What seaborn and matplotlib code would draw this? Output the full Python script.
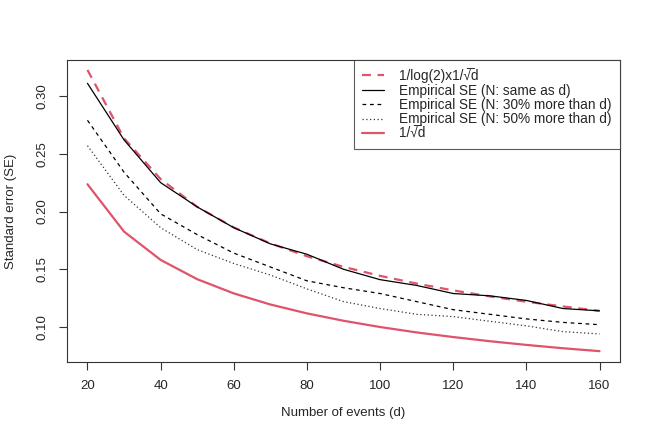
import matplotlib
matplotlib.use("Agg")
import matplotlib.pyplot as plt
import seaborn as sns
import pandas as pd

d = [20, 30, 40, 50, 60, 70, 80, 90, 100, 110, 120, 130, 140, 150, 160]
theory_log2 = [0.3226, 0.2634, 0.2281, 0.2040, 0.1862, 0.1724, 0.1613, 0.1521,
               0.1443, 0.1376, 0.1317, 0.1265, 0.1219, 0.1178, 0.1140]
emp_same = [0.311, 0.262, 0.225, 0.204, 0.186, 0.172, 0.163, 0.150,
            0.141, 0.136, 0.129, 0.127, 0.123, 0.116, 0.114]
emp_30 = [0.279, 0.234, 0.198, 0.180, 0.164, 0.152, 0.140, 0.134,
          0.129, 0.122, 0.115, 0.111, 0.107, 0.104, 0.102]
emp_50 = [0.257, 0.214, 0.186, 0.167, 0.155, 0.145, 0.133, 0.122,
          0.116, 0.111, 0.109, 0.105, 0.101, 0.096, 0.094]
theory = [0.2236, 0.1826, 0.1581, 0.1414, 0.1291, 0.1195, 0.1118, 0.1054,
          0.1000, 0.0953, 0.0913, 0.0877, 0.0845, 0.0816, 0.0791]

labels = ["1/log(2)x1/\u221a\u0305d",
          "Empirical SE (N: same as d)",
          "Empirical SE (N: 30% more than d)",
          "Empirical SE (N: 50% more than d)",
          "1/\u221a\u0305d"]

sns.set_style("white")
plt.rcParams['font.family'] = ['Liberation Sans', 'DejaVu Sans']

red = "#DF536B"
fig = plt.figure(figsize=(6.54, 4.36), dpi=100)
ax = fig.add_axes([67/654, 74/436, (620-67)/654, (362-60)/436])

series = [theory_log2, emp_same, emp_30, emp_50, theory]
styles = [dict(color=red, lw=1.6, dashes=(4, 3)),
          dict(color="black", lw=0.9),
          dict(color="black", lw=0.9, dashes=(3, 3)),
          dict(color="#333333", lw=0.9, dashes=(1, 2)),
          dict(color=red, lw=1.6)]
for vals, lab, st in zip(series, labels, styles):
    df = pd.DataFrame({"d": d, "se": vals})
    dashes = st.pop("dashes", None)
    sns.lineplot(data=df, x="d", y="se", ax=ax, label=lab, **st)
    if dashes is not None:
        ax.lines[-1].set_dashes(dashes)

ax.set_xlim(14.4, 165.6)
ax.set_ylim(0.0697, 0.3312)
ax.set_xticks([20, 40, 60, 80, 100, 120, 140, 160])
ax.set_yticks([0.10, 0.15, 0.20, 0.25, 0.30])
ax.set_yticklabels(["0.10", "0.15", "0.20", "0.25", "0.30"], rotation=90, va="center")
ax.tick_params(axis="both", direction="out", length=6, width=0.8, labelsize=9.5,
               bottom=True, left=True, color="#333333", pad=7)
for s in ax.spines.values():
    s.set_color("#333333")
    s.set_linewidth(0.8)
ax.set_xlabel("Number of events (d)", fontsize=9.5, labelpad=11)
ax.set_ylabel("Standard error (SE)", fontsize=9.5, labelpad=14)

leg = ax.legend(loc="upper right", frameon=True, fancybox=False, fontsize=9.8,
                borderaxespad=0, handlelength=1.6, handletextpad=1.15,
                labelspacing=0.03, borderpad=0.6)
leg.get_frame().set_edgecolor("#333333")
leg.get_frame().set_linewidth(0.8)

fig.savefig("out.png", dpi=100)
